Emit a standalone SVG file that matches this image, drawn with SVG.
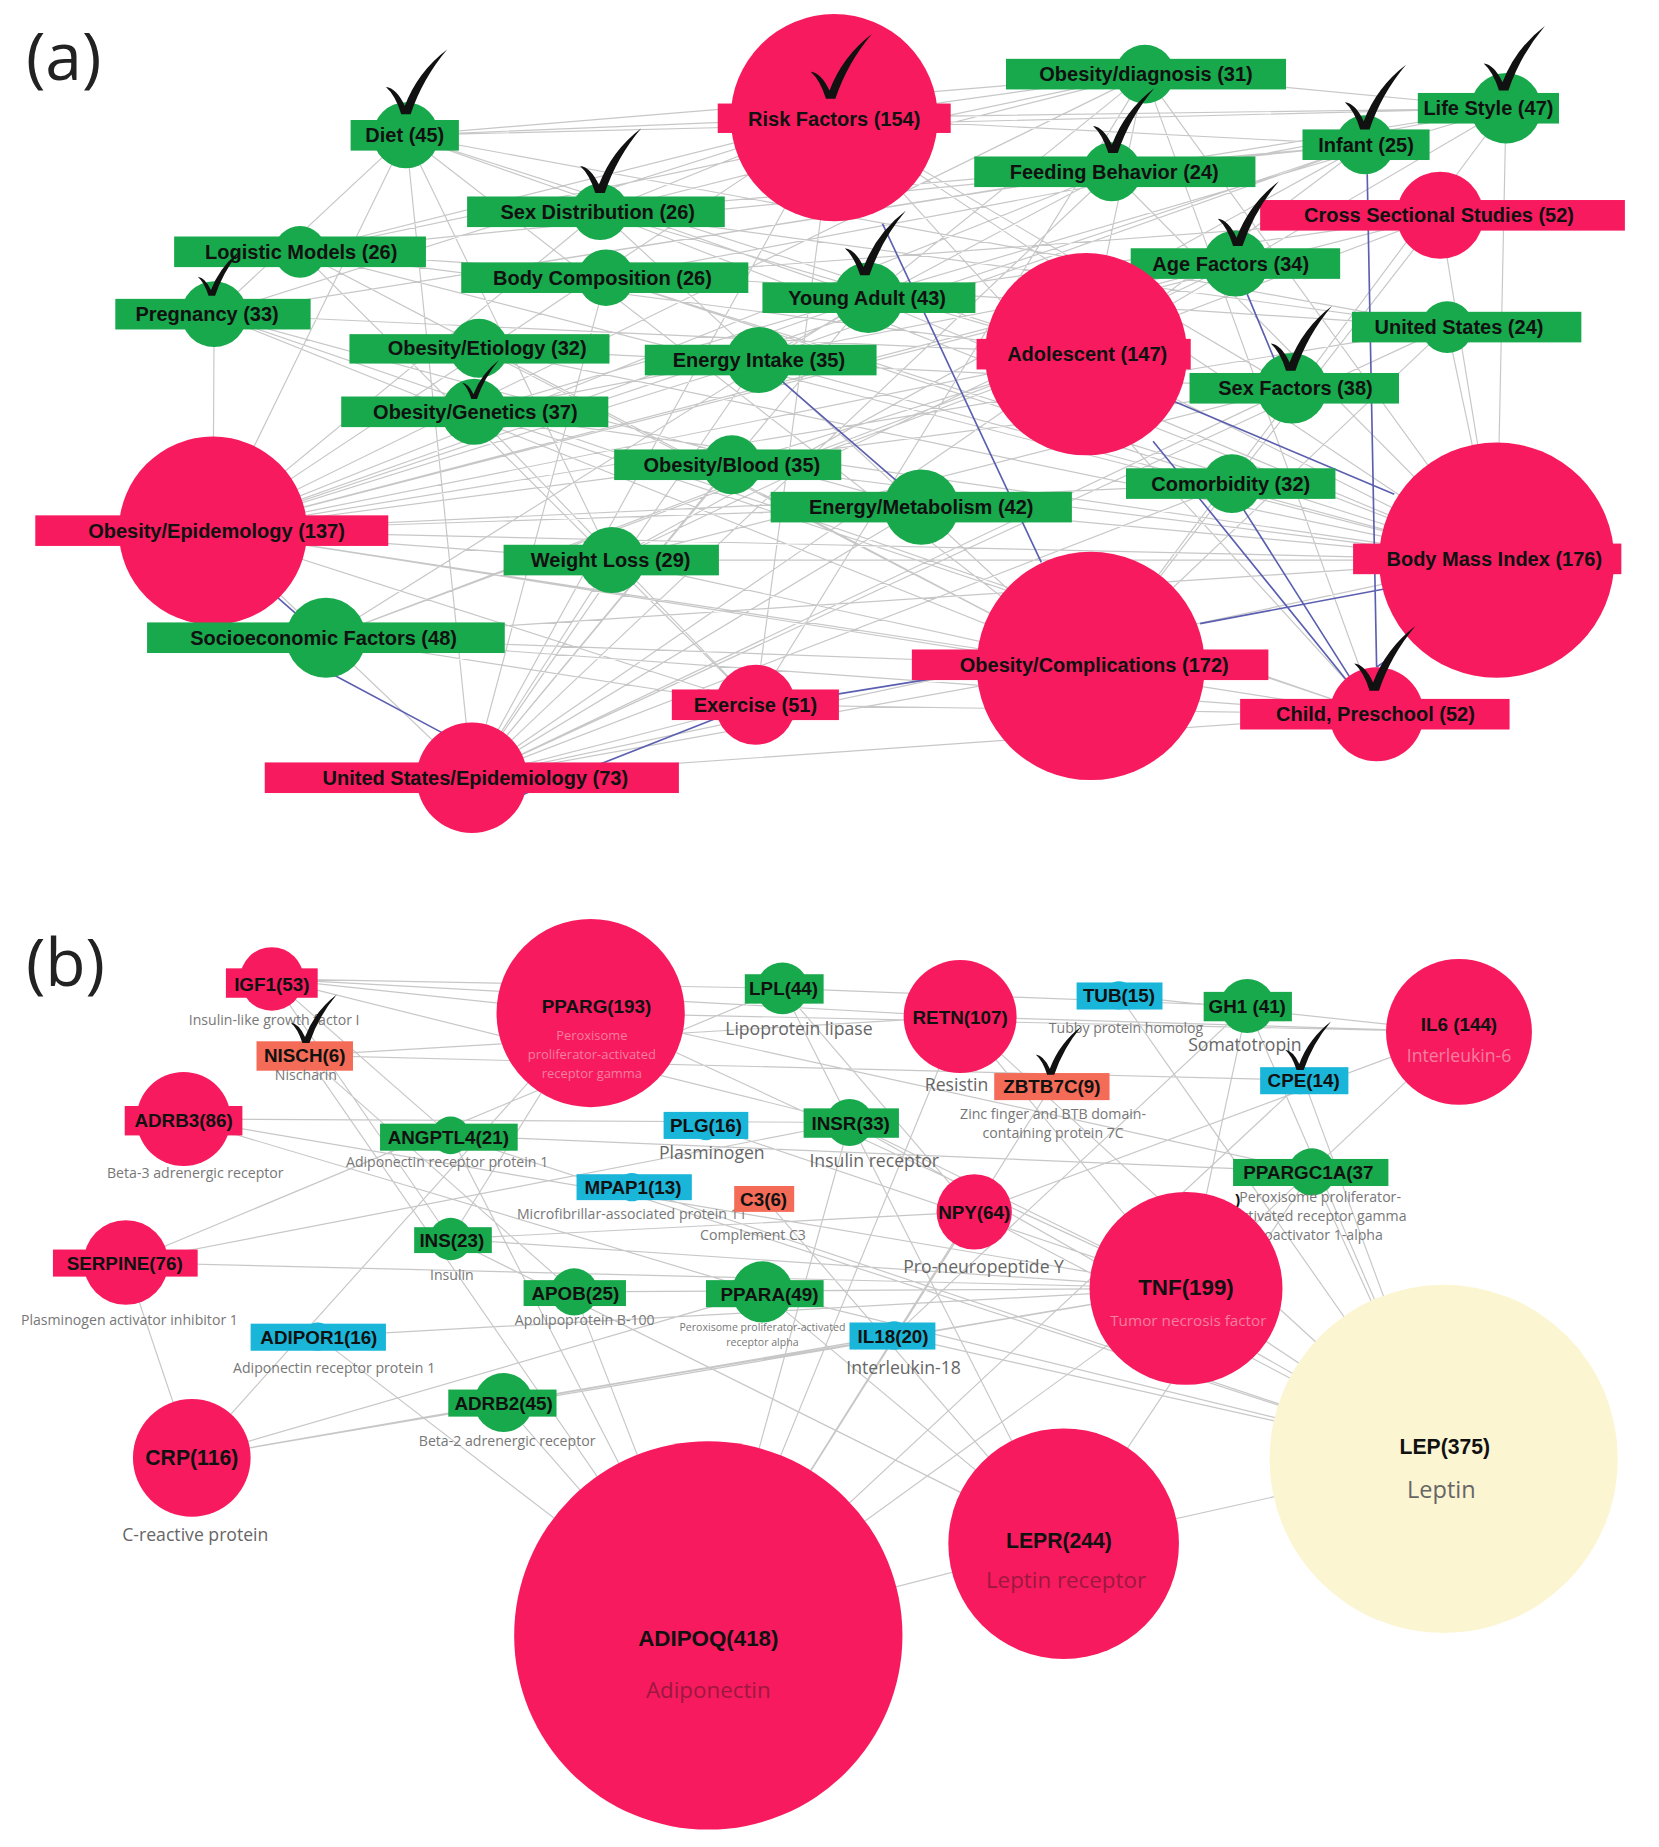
<svg xmlns="http://www.w3.org/2000/svg" width="1659" height="1847" viewBox="0 0 1659 1847">
<style>
.e{stroke:#b4b4b4;stroke-width:1;opacity:.75;fill:none}
.eb{stroke:#5b5fb0;stroke-width:1.4;fill:none}
.pk{fill:#f81a5e}.gr{fill:#17a94b}.bl{fill:#19b6d9}.sa{fill:#f46b58}.yl{fill:#fcf5d2}
.la{font-family:"Liberation Sans",Arial,sans-serif;font-weight:bold;font-size:17px;fill:#111;text-anchor:middle}
.lb{font-family:"Liberation Sans",Arial,sans-serif;font-weight:bold;font-size:16px;fill:#111;text-anchor:middle}
.s{font-family:"Open Sans","Liberation Sans",sans-serif;font-size:12px;fill:#777;text-anchor:middle}
.s2{font-family:"Open Sans","Liberation Sans",sans-serif;font-size:15px;fill:#666;text-anchor:middle}
.sp{font-family:"Open Sans","Liberation Sans",sans-serif;font-size:11px;fill:#f77ea0;text-anchor:middle}
.sd{font-family:"Open Sans","Liberation Sans",sans-serif;font-size:19px;fill:#9c1840;text-anchor:middle}
.pl{font-family:"Open Sans","Liberation Sans",sans-serif;font-size:56px;fill:#222}
</style>
<defs>
<path id="ck" d="M-17,-21 Q-8,-20 -1,-5 Q10,-34 35,-53 Q14,-28 4,2 L-4,2 Q-9,-14 -17,-21Z" fill="#111"/>
</defs>
<rect width="1659" height="1847" fill="#fff"/>
<g transform="scale(1.1766)">
<text class="pl" x="22" y="68">(a)</text>
<text class="pl" x="22" y="838">(b)</text>
<g id="connectors">
<path class="e" d="M709,100L345,115M709,100L973,63M709,100L1160,123M709,100L1280,92M709,100L510,180M709,100L255,214M709,100L182,267M709,100L1098,330M709,100L1272,476M709,100L181,451M709,100L401,661M709,100L1170,607M709,100L642,599M345,115L973,63M345,115L1280,92M345,115L923,301M345,115L181,451M345,115L927,566M345,115L401,661M345,115L738,253M345,115L1230,278M345,115L520,476M345,115L182,267M973,63L1280,92M973,63L510,180M973,63L181,451M973,63L1272,476M973,63L923,301M973,63L255,214M973,63L738,253M973,63L1170,607M945,146L182,267M945,146L1272,476M945,146L401,661M945,146L645,306M945,146L181,451M1160,123L510,180M1160,123L255,214M1160,123L181,451M1160,123L923,301M1160,123L645,306M1160,123L520,476M1280,92L515,236M1280,92L923,301M1280,92L1272,476M1280,92L182,267M1280,92L927,566M1280,92L403,350M1224,183L181,451M1224,183L515,236M1224,183L738,253M1224,183L927,566M1224,183L277,542M510,180L181,451M510,180L923,301M510,180L1272,476M510,180L927,566M510,180L1230,278M255,214L923,301M255,214L1272,476M255,214L927,566M255,214L642,599M255,214L1230,278M515,236L1272,476M515,236L401,661M515,236L1047,411M738,253L181,451M738,253L1272,476M738,253L401,661M738,253L277,542M1050,224L181,451M1050,224L403,350M1050,224L520,476M182,267L923,301M182,267L927,566M182,267L783,431M182,267L1170,607M923,301L181,451M923,301L401,661M923,301L277,542M923,301L622,395M923,301L1272,476M1230,278L181,451M1230,278L927,566M1230,278L401,661M407,296L1272,476M407,296L927,566M407,296L1098,330M645,306L181,451M645,306L1272,476M645,306L401,661M1098,330L181,451M1098,330L401,661M1098,330L520,476M403,350L1272,476M403,350L1170,607M403,350L642,599M622,395L1272,476M622,395L401,661M1047,411L181,451M1047,411L401,661M783,431L181,451M783,431L1272,476M783,431L401,661M181,451L1272,476M181,451L927,566M181,451L642,599M181,451L1170,607M181,451L520,476M1272,476L520,476M1272,476L277,542M1272,476L401,661M520,476L927,566M520,476L401,661M277,542L927,566M277,542L642,599M927,566L401,661M1170,607L401,661M1170,607L642,599M1170,607L277,542M181,451L401,661M181,451L182,267M1272,476L1280,92M1272,476L1230,278M642,599L401,661M642,599L973,63M1224,183L1272,476M401,661L1230,278"/>
<path class="eb" d="M750,190L885,478M660,320L775,420M1162,148L1170,567M1060,250L1085,310M995,340L1185,420M1055,430L1150,580M980,375L1150,585M680,595L835,570M445,675L610,610M277,570L380,625M236,508L252,522M1020,530L1180,500M1170,567L1180,560"/>
<path class="e" d="M231,832L502,861M231,832L816,864M231,832L665,840M231,832L383,965M231,832L383,1053M231,832L722,954M260,897L816,864M260,897L1108,918M260,897L488,1098M260,897L601,1390M156,951L648,1098M156,951L722,954M156,951L1008,1095M107,1073L1008,1095M107,1073L722,954M107,1073L665,840M502,861L1240,877M502,861L1008,1095M502,861L383,1053M502,861L163,1239M502,861L1115,996M665,840L1060,855M665,840L904,1312M665,840L828,1030M816,864L1240,877M816,864L1008,1095M816,864L601,1390M816,864L1227,1240M951,846L1227,1240M951,846L1240,877M1060,855L1227,1240M1060,855L1008,1095M1060,855L760,1135M1240,877L1008,1095M1240,877L828,1030M1108,918L1227,1240M1108,918L601,1390M1115,996L1227,1240M1115,996L904,1312M1115,996L383,965M722,954L1008,1095M722,954L1227,1240M722,954L601,1390M828,1030L1227,1240M828,1030L601,1390M828,1030L383,1053M383,965L1227,1240M383,965L601,1390M383,1053L904,1312M383,1053L1008,1095M488,1098L1008,1095M488,1098L601,1390M648,1098L1227,1240M648,1098L904,1312M648,1098L163,1239M760,1135L1227,1240M760,1135L428,1192M428,1192L1008,1095M428,1192L601,1390M163,1239L1008,1095M163,1239L760,1135M107,1073L163,1239M270,1136L601,1390M270,1136L1008,1095M1008,1095L1227,1240M904,1312L1227,1240M601,1390L1008,1095M601,1390L904,1312M600,957L1008,1095M537,1009L1227,1240M650,1019L904,1312M893,924L601,1390"/>
</g>
<g id="a-nodes">
<g id="riskfactors"><circle class="pk" cx="709" cy="100" r="88"/><rect class="pk" x="610" y="88" width="198" height="25"/><text class="la" x="709" y="107">Risk Factors (154)</text></g>
<g id="diet"><circle class="gr" cx="345" cy="115" r="28"/><rect class="gr" x="298" y="102" width="92" height="26"/><text class="la" x="344" y="121">Diet (45)</text></g>
<g id="obdiag"><circle class="gr" cx="973" cy="63" r="25"/><rect class="gr" x="855" y="50" width="238" height="26"/><text class="la" x="974" y="69">Obesity/diagnosis (31)</text></g>
<g id="feeding"><circle class="gr" cx="945" cy="146" r="25"/><rect class="gr" x="828" y="133" width="239" height="26"/><text class="la" x="947" y="152">Feeding Behavior (24)</text></g>
<g id="infant"><circle class="gr" cx="1160" cy="123" r="25"/><rect class="gr" x="1107" y="110" width="108" height="26"/><text class="la" x="1161" y="129">Infant (25)</text></g>
<g id="lifestyle"><circle class="gr" cx="1280" cy="92" r="30"/><rect class="gr" x="1205" y="79" width="120" height="26"/><text class="la" x="1265" y="98">Life Style (47)</text></g>
<g id="crosssec"><circle class="pk" cx="1224" cy="183" r="37"/><rect class="pk" x="1071" y="170" width="310" height="26"/><text class="la" x="1223" y="189">Cross Sectional Studies (52)</text></g>
<g id="sexdist"><circle class="gr" cx="510" cy="180" r="24"/><rect class="gr" x="397" y="167" width="219" height="26"/><text class="la" x="508" y="186">Sex Distribution (26)</text></g>
<g id="logistic"><circle class="gr" cx="255" cy="214" r="22"/><rect class="gr" x="148" y="201" width="214" height="26"/><text class="la" x="256" y="220">Logistic Models (26)</text></g>
<g id="bodycomp"><circle class="gr" cx="515" cy="236" r="24"/><rect class="gr" x="392" y="223" width="244" height="26"/><text class="la" x="512" y="242">Body Composition (26)</text></g>
<g id="youngadult"><circle class="gr" cx="738" cy="253" r="30"/><rect class="gr" x="648" y="240" width="181" height="26"/><text class="la" x="737" y="259">Young Adult (43)</text></g>
<g id="agefactors"><circle class="gr" cx="1050" cy="224" r="28"/><rect class="gr" x="961" y="211" width="178" height="26"/><text class="la" x="1046" y="230">Age Factors (34)</text></g>
<g id="pregnancy"><circle class="gr" cx="182" cy="267" r="28"/><rect class="gr" x="98" y="254" width="166" height="26"/><text class="la" x="176" y="273">Pregnancy (33)</text></g>
<g id="adolescent"><circle class="pk" cx="923" cy="301" r="86"/><rect class="pk" x="830" y="288" width="182" height="26"/><text class="la" x="924" y="307">Adolescent (147)</text></g>
<g id="us"><circle class="gr" cx="1230" cy="278" r="22"/><rect class="gr" x="1149" y="265" width="195" height="26"/><text class="la" x="1240" y="284">United States (24)</text></g>
<g id="obetiology"><circle class="gr" cx="407" cy="296" r="25"/><rect class="gr" x="297" y="284" width="221" height="25"/><text class="la" x="414" y="302">Obesity/Etiology (32)</text></g>
<g id="energyintake"><circle class="gr" cx="645" cy="306" r="28"/><rect class="gr" x="548" y="293" width="197" height="26"/><text class="la" x="645" y="312">Energy Intake (35)</text></g>
<g id="sexfactors"><circle class="gr" cx="1098" cy="330" r="30"/><rect class="gr" x="1011" y="317" width="178" height="26"/><text class="la" x="1101" y="336">Sex Factors (38)</text></g>
<g id="obgenetics"><circle class="gr" cx="403" cy="350" r="28"/><rect class="gr" x="290" y="337" width="227" height="26"/><text class="la" x="404" y="356">Obesity/Genetics (37)</text></g>
<g id="obblood"><circle class="gr" cx="622" cy="395" r="25"/><rect class="gr" x="522" y="382" width="193" height="26"/><text class="la" x="622" y="401">Obesity/Blood (35)</text></g>
<g id="comorbidity"><circle class="gr" cx="1047" cy="411" r="25"/><rect class="gr" x="957" y="398" width="178" height="26"/><text class="la" x="1046" y="417">Comorbidity (32)</text></g>
<g id="energymet"><circle class="gr" cx="783" cy="431" r="32"/><rect class="gr" x="655" y="418" width="256" height="26"/><text class="la" x="783" y="437">Energy/Metabolism (42)</text></g>
<g id="obepi"><circle class="pk" cx="181" cy="451" r="80"/><rect class="pk" x="30" y="438" width="300" height="26"/><text class="la" x="184" y="457">Obesity/Epidemology (137)</text></g>
<g id="bmi"><circle class="pk" cx="1272" cy="476" r="100"/><rect class="pk" x="1150" y="462" width="228" height="26"/><text class="la" x="1270" y="481">Body Mass Index (176)</text></g>
<g id="weightloss"><circle class="gr" cx="520" cy="476" r="28"/><rect class="gr" x="428" y="463" width="183" height="26"/><text class="la" x="519" y="482">Weight Loss (29)</text></g>
<g id="socio"><circle class="gr" cx="277" cy="542" r="34"/><rect class="gr" x="125" y="529" width="304" height="26"/><text class="la" x="275" y="548">Socioeconomic Factors (48)</text></g>
<g id="obcomp"><circle class="pk" cx="927" cy="566" r="97"/><rect class="pk" x="775" y="552" width="303" height="26"/><text class="la" x="930" y="571">Obesity/Complications (172)</text></g>
<g id="exercise"><circle class="pk" cx="642" cy="599" r="34"/><rect class="pk" x="571" y="586" width="142" height="26"/><text class="la" x="642" y="605">Exercise (51)</text></g>
<g id="childpre"><circle class="pk" cx="1170" cy="607" r="40"/><rect class="pk" x="1054" y="594" width="229" height="26"/><text class="la" x="1169" y="613">Child, Preschool (52)</text></g>
<g id="usepi"><circle class="pk" cx="401" cy="661" r="47"/><rect class="pk" x="225" y="648" width="352" height="26"/><text class="la" x="404" y="667">United States/Epidemiology (73)</text></g>
</g>
<g id="checks">
<use href="#ck" x="345" y="95"/><use href="#ck" x="706" y="82"/><use href="#ck" x="510" y="162"/><use href="#ck" transform="translate(180,250) scale(.7)"/><use href="#ck" transform="translate(403,338) scale(.6)"/><use href="#ck" x="735" y="232"/><use href="#ck" x="946" y="128"/><use href="#ck" x="1160" y="108"/><use href="#ck" x="1278" y="75"/><use href="#ck" x="1052" y="207"/><use href="#ck" x="1097" y="313"/><use href="#ck" x="1168" y="585"/>
</g>
<g id="b-nodes">
<g id="igf1"><circle class="pk" cx="231" cy="832" r="27"/><rect class="pk" x="192" y="823" width="78" height="25"/><text class="lb" x="231" y="842">IGF1(53)</text><text class="s" x="233" y="871">Insulin-like growth factor I</text></g>
<g id="nisch"><rect class="sa" x="218" y="885" width="82" height="25"/><text class="lb" x="259" y="903">NISCH(6)</text><text class="s" x="260" y="918">Nischarin</text></g>
<g id="pparg"><circle class="pk" cx="502" cy="861" r="80"/><text class="lb" x="507" y="861">PPARG(193)</text><text class="sp" x="503" y="884">Peroxisome</text><text class="sp" x="503" y="900">proliferator-activated</text><text class="sp" x="503" y="916">receptor gamma</text></g>
<g id="lpl"><circle class="gr" cx="665" cy="840" r="22"/><rect class="gr" x="633" y="828" width="67" height="25"/><text class="lb" x="666" y="846">LPL(44)</text><text class="s2" x="679" y="880">Lipoprotein lipase</text></g>
<g id="retn"><circle class="pk" cx="816" cy="864" r="48"/><text class="lb" x="816" y="870">RETN(107)</text><text class="s2" x="813" y="927">Resistin</text></g>
<g id="tub"><circle class="bl" cx="951" cy="846" r="12"/><rect class="bl" x="915" y="835" width="73" height="23"/><text class="lb" x="951" y="852">TUB(15)</text><text class="s" x="957" y="878">Tubby protein homolog</text></g>
<g id="gh1"><circle class="gr" cx="1060" cy="855" r="23"/><rect class="gr" x="1023" y="843" width="75" height="25"/><text class="lb" x="1060" y="861">GH1 (41)</text><text class="s2" x="1058" y="893">Somatotropin</text></g>
<g id="il6"><circle class="pk" cx="1240" cy="877" r="62"/><text class="lb" x="1240" y="876">IL6 (144)</text><text class="s2" x="1240" y="903" style="fill:#f77ea0">Interleukin-6</text></g>
<g id="zbtb7c"><rect class="sa" x="845" y="912" width="98" height="23"/><text class="lb" x="894" y="929">ZBTB7C(9)</text><text class="s" x="895" y="951">Zinc finger and BTB domain-</text><text class="s" x="895" y="967">containing protein 7C</text></g>
<g id="cpe"><circle class="bl" cx="1105" cy="919" r="11"/><rect class="bl" x="1071" y="907" width="75" height="23"/><text class="lb" x="1108" y="924">CPE(14)</text></g>
<g id="adrb3"><circle class="pk" cx="156" cy="951" r="40"/><rect class="pk" x="106" y="940" width="100" height="25"/><text class="lb" x="156" y="958">ADRB3(86)</text><text class="s" x="166" y="1001">Beta-3 adrenergic receptor</text></g>
<g id="angptl4"><circle class="gr" cx="383" cy="965" r="16"/><rect class="gr" x="323" y="955" width="117" height="23"/><text class="lb" x="381" y="972">ANGPTL4(21)</text><text class="s" x="380" y="992">Adiponectin receptor protein 1</text></g>
<g id="plg"><circle class="bl" cx="600" cy="957" r="12"/><rect class="bl" x="564" y="945" width="72" height="23"/><text class="lb" x="600" y="962">PLG(16)</text><text class="s2" x="605" y="985">Plasminogen</text></g>
<g id="insr"><circle class="gr" cx="722" cy="954" r="20"/><rect class="gr" x="683" y="942" width="81" height="25"/><text class="lb" x="723" y="960">INSR(33)</text><text class="s2" x="743" y="992">Insulin receptor</text></g>
<g id="ppargc1a"><circle class="gr" cx="1115" cy="996" r="20"/><rect class="gr" x="1048" y="985" width="132" height="23"/><text class="lb" x="1112" y="1002">PPARGC1A(37</text><text class="s" x="1122" y="1022">Peroxisome proliferator-</text><text class="s" x="1122" y="1038">activated receptor gamma</text><text class="s" x="1122" y="1054">coactivator 1-alpha</text><text class="lb" style="font-size:13px" x="1052" y="1024">)</text></g>
<g id="mpap1"><circle class="bl" cx="537" cy="1009" r="12"/><rect class="bl" x="490" y="998" width="98" height="22"/><text class="lb" x="538" y="1015">MPAP1(13)</text><text class="s" x="537" y="1036">Microfibrillar-associated protein 11</text></g>
<g id="c3"><rect class="sa" x="624" y="1008" width="51" height="22"/><text class="lb" x="649" y="1025">C3(6)</text><text class="s" x="640" y="1054">Complement C3</text></g>
<g id="npy"><circle class="pk" cx="828" cy="1030" r="32"/><text class="lb" x="828" y="1036">NPY(64)</text><text class="s2" x="836" y="1082">Pro-neuropeptide Y</text></g>
<g id="ins"><circle class="gr" cx="383" cy="1053" r="18"/><rect class="gr" x="352" y="1043" width="66" height="22"/><text class="lb" x="384" y="1060">INS(23)</text><text class="s" x="384" y="1088">Insulin</text></g>
<g id="serpine"><circle class="pk" cx="107" cy="1073" r="36"/><rect class="pk" x="45" y="1062" width="123" height="23"/><text class="lb" x="106" y="1079">SERPINE(76)</text><text class="s" x="110" y="1126">Plasminogen activator inhibitor 1</text></g>
<g id="apob"><circle class="gr" cx="488" cy="1098" r="20"/><rect class="gr" x="445" y="1088" width="87" height="22"/><text class="lb" x="489" y="1105">APOB(25)</text><text class="s" x="497" y="1126">Apolipoprotein B-100</text></g>
<g id="ppara"><circle class="gr" cx="648" cy="1098" r="26"/><rect class="gr" x="600" y="1088" width="100" height="23"/><text class="lb" x="654" y="1106">PPARA(49)</text><text class="s" style="font-size:9px" x="648" y="1131">Peroxisome proliferator-activated</text><text class="s" style="font-size:9px" x="648" y="1144">receptor alpha</text></g>
<g id="tnf"><circle class="pk" cx="1008" cy="1095" r="82"/><text class="lb" style="font-size:19px" x="1008" y="1101">TNF(199)</text><text class="sp" style="font-size:13px" x="1010" y="1127">Tumor necrosis factor</text></g>
<g id="il18"><circle class="bl" cx="760" cy="1135" r="12"/><rect class="bl" x="722" y="1124" width="73" height="23"/><text class="lb" x="759" y="1141">IL18(20)</text><text class="s2" x="768" y="1168">Interleukin-18</text></g>
<g id="adipor1"><circle class="bl" cx="270" cy="1136" r="12"/><rect class="bl" x="213" y="1125" width="115" height="23"/><text class="lb" x="271" y="1142">ADIPOR1(16)</text><text class="s" x="284" y="1167">Adiponectin receptor protein 1</text></g>
<g id="adrb2"><circle class="gr" cx="428" cy="1192" r="25"/><rect class="gr" x="381" y="1181" width="92" height="23"/><text class="lb" x="428" y="1198">ADRB2(45)</text><text class="s" x="431" y="1229">Beta-2 adrenergic receptor</text></g>
<g id="crp"><circle class="pk" cx="163" cy="1239" r="50"/><text class="lb" style="font-size:18px" x="163" y="1245">CRP(116)</text><text class="s2" x="166" y="1310">C-reactive protein</text></g>
<g id="lep"><circle class="yl" cx="1227" cy="1240" r="148"/><text class="lb" style="font-size:18px" x="1228" y="1236">LEP(375)</text><text class="s2" style="font-size:20px;fill:#666" x="1225" y="1273">Leptin</text></g>
<g id="lepr"><circle class="pk" cx="904" cy="1312" r="98"/><text class="lb" style="font-size:18px" x="900" y="1316">LEPR(244)</text><text class="sd" x="906" y="1350">Leptin receptor</text></g>
<g id="adipoq"><circle class="pk" cx="602" cy="1390" r="165"/><text class="lb" style="font-size:19px" x="602" y="1399">ADIPOQ(418)</text><text class="sd" x="602" y="1443">Adiponectin</text></g>
</g>
<g id="checks-b"><use href="#ck" transform="translate(260,885) scale(.75)"/><use href="#ck" transform="translate(893,912) scale(.75)"/><use href="#ck" transform="translate(1105,908) scale(.75)"/></g>
</g>
</svg>
